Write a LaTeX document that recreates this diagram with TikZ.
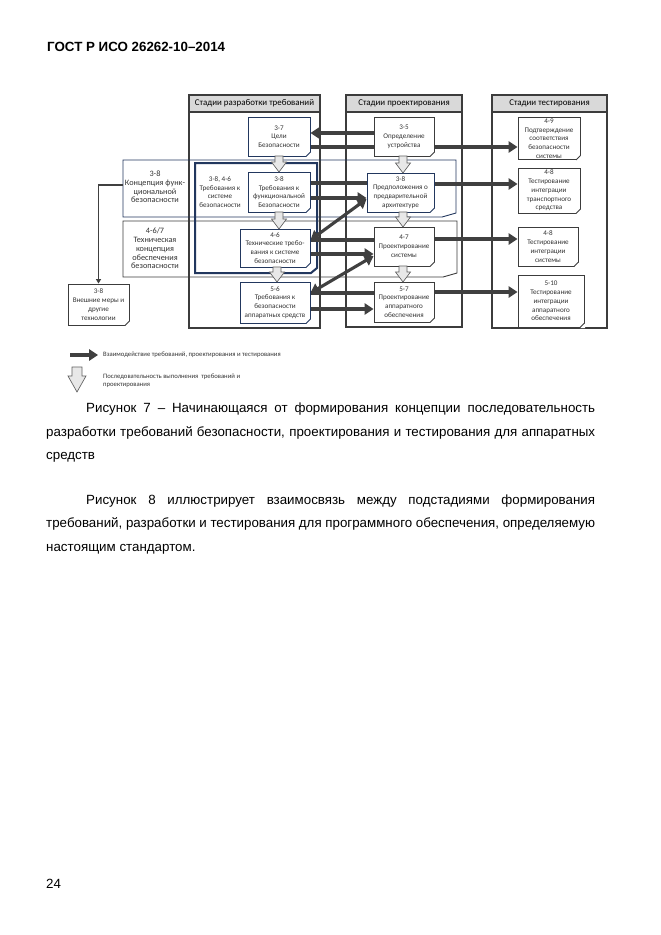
\documentclass[tikz,border=0pt]{standalone}
\usepackage{fontspec}
\setmainfont{Liberation Sans}
\newfontfamily\dgf{Carlito}
\usetikzlibrary{arrows.meta,calc}
\definecolor{lnk}{HTML}{404040}
\definecolor{navy}{HTML}{22375E}
\definecolor{bdr}{HTML}{3C3C3C}
\definecolor{hdr}{HTML}{D9D9D9}
\definecolor{txt}{HTML}{333333}
\newcommand\boxfont{\dgf\fontsize{6.4}{7.9}\selectfont}
\newcommand\hdrfont{\dgf\fontsize{8}{9}\selectfont}
\newcommand\sidefont{\dgf\fontsize{7.4}{7.9}\selectfont}
\newcommand\grpfont{\dgf\fontsize{6.4}{7.7}\selectfont}
\newcommand\legfont{\dgf\fontsize{6}{7}\selectfont}
\newcommand\captfont{\fontsize{12}{21.2}\selectfont}
% x center, y top, y tip, shaft half width, head half width, head length
\newcommand\seqarrow[6]{%
  \draw[seqa] (#1-#4,#2) -- (#1+#4,#2) -- (#1+#4,#3-#6) -- (#1+#5,#3-#6) -- (#1,#3)
    -- (#1-#5,#3-#6) -- (#1-#4,#3-#6) -- cycle;}
\pgfdeclarelayer{bg}
\pgfsetlayers{bg,main}
\begin{document}
\begin{tikzpicture}[x=0.9pt,y=-0.9pt,
  sz/.style 2 args={minimum width=#1*0.9pt,minimum height=#2*0.9pt},
  box/.style={draw=bdr,line width=0.8pt,fill=white,inner sep=0pt,align=center,font=\boxfont,text=txt},
  nbox/.style={box,draw=navy},
  panelh/.style={draw=bdr,line width=1.2pt,fill=hdr,inner sep=0pt,font=\hdrfont,text=black},
  panelb/.style={draw=bdr,line width=1.2pt,fill=white,inner sep=0pt},
  conn/.style={draw=lnk,line width=2.8pt},
  arr/.style={conn,-{Triangle[length=8pt,width=10pt]}},
  darr/.style={conn,{Triangle[length=8pt,width=10pt]}-{Triangle[length=8pt,width=10pt]}},
  thinarr/.style={draw=lnk,line width=1pt,-{Triangle[length=4pt,width=4.5pt]}},
  seqa/.style={draw=gray!75!black,line width=0.6pt,fill=gray!18},
  lbl/.style={inner sep=0pt,align=center,text=txt}
]
\useasboundingbox (0,0) rectangle (661,935);

% page texts
\node[anchor=base west,inner sep=0pt,font=\bfseries\fontsize{12}{14}\selectfont] (hd) at (47,51) {ГОСТ Р ИСО 26262-10–2014};
\node[anchor=base west,inner sep=0pt,font=\fontsize{12}{14}\selectfont] (pg) at (46,888) {24};

% boxes
\node[nbox,sz={62}{39}] (n37) at (279,136.5) {3-7\\Цели\\Безопасности};
\node[nbox,sz={62}{40}] (nfsr) at (279,192) {3-8\\Требования к\\функциональной\\Безопасности};
\node[nbox,sz={70}{38}] (n46) at (275,248) {4-6\\Технические требо-\\вания к системе\\безопасности};
\node[nbox,sz={70}{41}] (n56) at (275,302.5) {5-6\\Требования к\\безопасности\\аппаратных средств};
\node[box,sz={60}{39}] (n35) at (404,136.5) {3-5\\Определение\\устройства};
\node[nbox,sz={67}{39}] (npaa) at (400.5,192.5) {3-8\\Предположения о\\предварительной\\архитектуре};
\node[box,sz={60}{39}] (n47) at (404,246.5) {4-7\\Проектирование\\системы};
\node[box,sz={60}{40}] (n57) at (404,302) {5-7\\Проектирование\\аппаратного\\обеспечения};
\node[box,sz={62}{42}] (n49) at (549,138.5) {4-9\\Подтверждение\\соответствия\\безопасности\\системы};
\node[box,sz={62}{45}] (n48v) at (549,190.5) {4-8\\Тестирование\\интеграции\\транспортного\\средства};
\node[box,sz={60}{39}] (n48s) at (548,246.5) {4-8\\Тестирование\\интеграции\\системы};
\node[box,sz={66}{52}] (n510) at (551,301) {5-10\\Тестирование\\интеграции\\аппаратного\\обеспечения};
\node[box,sz={61}{41}] (next) at (98.5,304.5) {3-8\\Внешние меры и\\другие\\технологии};

% folded corners
\foreach \n in {n37,nfsr,n46,n56,npaa}{
  \fill[white] ($(\n.south east)+(-4.5,0.6)$) -- ($(\n.south east)+(0.6,0.6)$) -- ($(\n.south east)+(0.6,-4.5)$) -- cycle;
  \draw[navy,line width=0.8pt] ($(\n.south east)+(-4.5,0)$) -- ($(\n.south east)+(0,-4.5)$);
}
\foreach \n in {n35,n47,n57,n49,n48v,n48s,n510,next}{
  \fill[white] ($(\n.south east)+(-4.5,0.6)$) -- ($(\n.south east)+(0.6,0.6)$) -- ($(\n.south east)+(0.6,-4.5)$) -- cycle;
  \draw[bdr,line width=0.8pt] ($(\n.south east)+(-4.5,0)$) -- ($(\n.south east)+(0,-4.5)$);
}

% sequence arrows
\seqarrow{279}{156}{172}{4}{7.5}{10}
\seqarrow{279}{212}{229}{4}{7.5}{10}
\seqarrow{277}{267}{282}{4}{7.5}{10}
\seqarrow{403}{156}{173}{4}{7.5}{10}
\seqarrow{403}{212}{227}{4}{7.5}{10}
\seqarrow{403}{266}{282}{4}{7.5}{10}

\begin{pgfonlayer}{bg}
  \fill[white] (0,0) rectangle (661,935);
  % panels
  \node[panelb,sz={131}{216}] (b1) at (254.5,220) {};
  \node[panelh,sz={131}{17}] (h1) at (254.5,103.5) {Стадии разработки требований};
  \node[panelb,sz={116}{215}] (b2) at (404,219.5) {};
  \node[panelh,sz={116}{17}] (h2) at (404,103.5) {Стадии проектирования};
  \node[panelb,sz={115}{216}] (b3) at (549.5,220) {};
  \node[panelh,sz={115}{17}] (h3) at (549.5,103.5) {Стадии тестирования};
  % concept frames
  \draw[navy,line width=0.8pt] (123,160) -- (456,160) -- (456,213) -- (442,217) -- (123,217) -- cycle;
  \draw[bdr,line width=0.8pt] (123,221) -- (457,221) -- (457,273) -- (443,277) -- (123,277) -- cycle;
  \draw[navy,line width=1.8pt] (195,163) -- (317,163) -- (317,268) -- (311,273) -- (195,273) -- cycle;
  \node[lbl,font=\sidefont] (r1t) at (155,187) {3-8\\Концепция функ-\\циональной\\безопасности};
  \node[lbl,font=\sidefont] (r2t) at (155,248.5) {4-6/7\\Техническая\\концепция\\обеспечения\\безопасности};
  \node[lbl,font=\grpfont] (gt) at (220,192) {3-8, 4-6\\Требования к\\системе\\безопасности};
  \coordinate (r1w) at (123,185);
  \draw[thinarr] (r1w) -| (next.north);
  % interactions
  \draw[arr] (n35.west |- 0,133) -- (n37.east |- 0,133);
  \draw[conn] (n37.east |- 0,147) -- (n35.west |- 0,147);
  \draw[arr] (n35.east |- 0,147) -- (n49.west |- 0,147);
  \draw[conn] (nfsr.east |- 0,183) -- (npaa.west |- 0,183);
  \draw[arr] (npaa.east |- 0,184) -- (n48v.west |- 0,184);
  \draw[arr] (nfsr.east |- 0,198) -- (npaa.west |- 0,198);
  \draw[darr] (npaa.west |- 0,199) -- (n46.east |- 0,240);
  \draw[conn] (n46.east |- 0,240) -- (n47.west |- 0,240);
  \draw[arr] (n47.east |- 0,239) -- (n48s.west |- 0,239);
  \draw[arr] (n46.east |- 0,254) -- (n47.west |- 0,254);
  \draw[darr] (n47.west |- 0,256) -- (n56.east |- 0,293);
  \draw[conn] (n56.east |- 0,293) -- (n57.west |- 0,293);
  \draw[arr] (n57.east |- 0,292) -- (n510.west |- 0,292);
  \draw[arr] (n56.east |- 0,309) -- (n57.west |- 0,309);
\end{pgfonlayer}

% legend
\coordinate (lg1a) at (70,355);
\coordinate (lg1b) at (98,355);
\draw[arr] (lg1a) -- (lg1b);
\node[anchor=west,lbl,font=\legfont] (lg1t) at (103,355) {Взаимодействие требований, проектирования и тестирования};
\seqarrow{77}{367}{392}{5}{9}{16}
\node[anchor=west,lbl,align=left,font=\legfont] (lg2t) at (103,380.5) {Последовательность выполнения\ \ требований и\\проектирования};

% caption and paragraph
\node[anchor=base west,inner sep=0pt,text width=494pt,align=justify,font=\captfont] (cap) at (46,412.5)
  {\hyphenpenalty=10000\hspace*{36pt}Рисунок 7 – Начинающаяся от формирования концепции последовательность\linebreak разработки требований безопасности, проектирования и тестирования для аппаратных\linebreak средств};
\node[anchor=base west,inner sep=0pt,text width=494pt,align=justify,font=\captfont] (par) at (46,504)
  {\hyphenpenalty=10000\hspace*{36pt}Рисунок 8 иллюстрирует взаимосвязь между подстадиями формирования\linebreak требований, разработки и тестирования для программного обеспечения, определяемую\linebreak настоящим стандартом.};
\end{tikzpicture}
\end{document}
